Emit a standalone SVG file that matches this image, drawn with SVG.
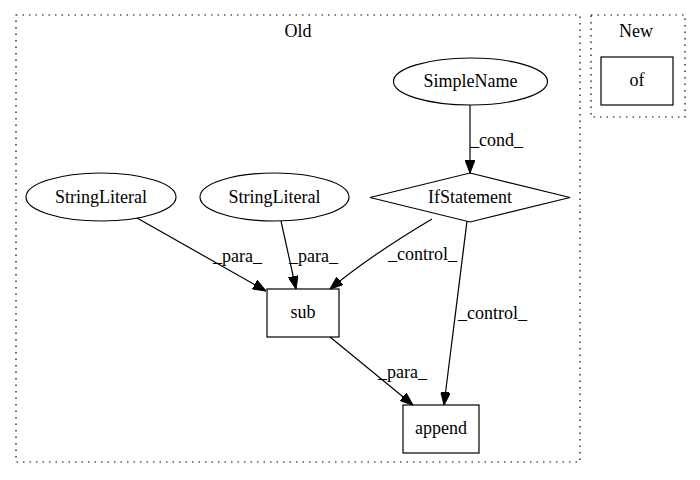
<svg xmlns="http://www.w3.org/2000/svg" width="700" height="480" viewBox="0 0 700 480">
<defs>
<style>
text{font-family:"Liberation Serif","Times New Roman",serif;font-size:18px;fill:#000}
.n{fill:none;stroke:#000;stroke-width:1.2}
.c{fill:none;stroke:#000;stroke-width:1.2;stroke-dasharray:1.5,5}
.e{fill:none;stroke:#000;stroke-width:1.2;marker-end:url(#ah)}
.m{text-anchor:middle}
</style>
<marker id="ah" markerUnits="userSpaceOnUse" markerWidth="13" markerHeight="10" refX="13" refY="5" orient="auto">
<path d="M0,0 L13,5 L0,10 z" fill="#000" stroke="#000" stroke-width="1"/>
</marker>
</defs>
<rect width="700" height="480" fill="#fff"/>
<g id="cluster_old">
<rect class="c" x="16" y="15" width="564" height="447"/>
<text class="m" x="298" y="37">Old</text>
</g>
<g id="cluster_new">
<rect class="c" x="591" y="15" width="94" height="102"/>
<text class="m" x="636" y="37">New</text>
</g>
<g id="edges">
<path class="e" d="M470,105 L470,173"/>
<text x="470" y="146">_cond_</text>
<path class="e" d="M137,218 L266,291"/>
<text x="213" y="262">_para_</text>
<path class="e" d="M281,221 L296,289"/>
<text x="289" y="262">_para_</text>
<path class="e" d="M432,219 C405,235 365,260 330,289"/>
<text x="388" y="260">_control_</text>
<path class="e" d="M467,221 L444,405"/>
<text x="458" y="319">_control_</text>
<path class="e" d="M330,337 L413,405"/>
<text x="378" y="378">_para_</text>
</g>
<g id="SimpleName">
<ellipse class="n" cx="470.5" cy="81.5" rx="77" ry="23.5"/>
<text class="m" x="470.5" y="87">SimpleName</text>
</g>
<g id="IfStatement">
<polygon class="n" points="470,173 570,197.5 470,222 370,197.5"/>
<text class="m" x="470" y="203">IfStatement</text>
</g>
<g id="StringLiteral1">
<ellipse class="n" cx="101" cy="197" rx="75" ry="24"/>
<text class="m" x="101" y="203">StringLiteral</text>
</g>
<g id="StringLiteral2">
<ellipse class="n" cx="274.5" cy="197" rx="74.5" ry="24"/>
<text class="m" x="274.5" y="203">StringLiteral</text>
</g>
<g id="sub">
<rect class="n" x="267" y="289" width="72" height="48"/>
<text class="m" x="303" y="318">sub</text>
</g>
<g id="append">
<rect class="n" x="403" y="405" width="76" height="48"/>
<text class="m" x="441" y="434">append</text>
</g>
<g id="of">
<rect class="n" x="601" y="57" width="72" height="48"/>
<text class="m" x="637" y="86">of</text>
</g>
</svg>
